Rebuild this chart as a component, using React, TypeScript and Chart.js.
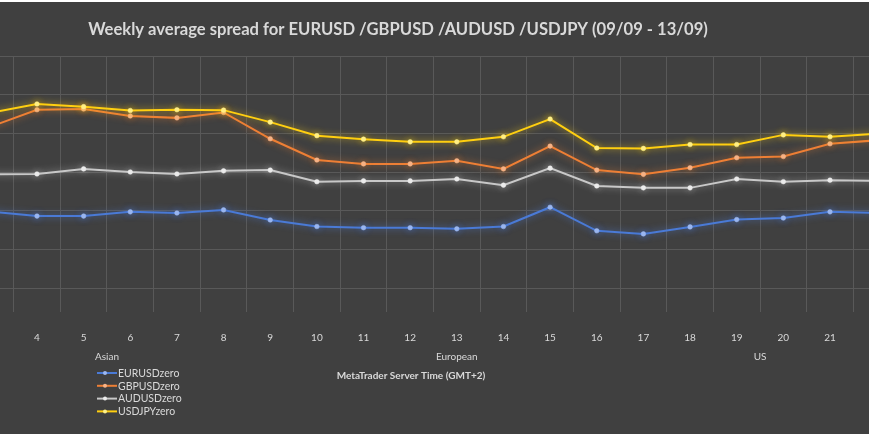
import React, { useEffect, useRef } from "react";
import { Chart, registerables } from "chart.js";

Chart.register(...registerables);

// Server hours (3 and 22 lie just outside the visible crop)
const hours = [3, 4, 5, 6, 7, 8, 9, 10, 11, 12, 13, 14, 15, 16, 17, 18, 19, 20, 21, 22];
const tickHours = [4, 5, 6, 7, 8, 9, 10, 11, 12, 13, 14, 15, 16, 17, 18, 19, 20, 21];
const gridValues = [0, 1, 2, 3, 4, 5, 6];

const eurusd = [1.98, 1.86, 1.86, 1.97, 1.94, 2.02, 1.76, 1.59, 1.56, 1.56, 1.53, 1.59, 2.09, 1.48, 1.40, 1.58, 1.77, 1.81, 1.97, 1.94];
const gbpusd = [4.17, 4.61, 4.63, 4.45, 4.40, 4.54, 3.86, 3.31, 3.21, 3.21, 3.29, 3.08, 3.67, 3.05, 2.94, 3.11, 3.37, 3.40, 3.73, 3.82];
const audusd = [2.94, 2.95, 3.08, 3.00, 2.95, 3.03, 3.05, 2.75, 2.77, 2.77, 2.82, 2.66, 3.10, 2.64, 2.59, 2.59, 2.82, 2.75, 2.79, 2.77];
const usdjpy = [4.53, 4.76, 4.69, 4.59, 4.61, 4.60, 4.29, 3.94, 3.85, 3.78, 3.78, 3.91, 4.37, 3.62, 3.61, 3.71, 3.71, 3.96, 3.91, 3.99];

const seriesNames = ["EURUSDzero", "GBPUSDzero", "AUDUSDzero", "USDJPYzero"];
const seriesValues = [eurusd, gbpusd, audusd, usdjpy];
const lineColors = ["#4a7ad6", "#ee7f35", "#c8c8c8", "#ffcf10"];
const markerColors = ["#9db8f0", "#f7b488", "#ececec", "#fff08a"];
const glowColors = ["rgba(80,130,230,0.75)", "rgba(240,130,50,0.7)", "rgba(220,220,220,0.6)", "rgba(255,210,20,0.75)"];

const sessionLabels = ["Asian", "European", "US"];
const sessionCenters = [5.5, 13, 19.5];

const titleText = "Weekly average spread for EURUSD /GBPUSD /AUDUSD /USDJPY (09/09 - 13/09)";
const axisTitle = "MetaTrader Server Time (GMT+2)";

const FONT = "Lato, 'Open Sans', sans-serif";
const TEXT = "#d9d9d9";

const bgPlugin = {
  id: "bg",
  beforeDraw(chart: any) {
    const ctx = chart.ctx;
    ctx.save();
    ctx.fillStyle = "#404040";
    ctx.fillRect(0, 0, chart.width, chart.height);
    ctx.restore();
  },
};

const glowPlugin = {
  id: "glow",
  beforeDatasetDraw(chart: any, args: any) {
    const ctx = chart.ctx;
    ctx.save();
    ctx.shadowColor = glowColors[args.index];
    ctx.shadowBlur = 7;
  },
  afterDatasetDraw(chart: any) {
    chart.ctx.restore();
  },
};

const overlayPlugin = {
  id: "overlay",
  afterDraw(chart: any) {
    const ctx = chart.ctx;
    const xs = chart.scales.x;
    ctx.save();
    ctx.fillStyle = TEXT;
    ctx.textAlign = "center";
    ctx.textBaseline = "middle";
    ctx.font = `bold 16.6px ${FONT}`;
    ctx.fillText(titleText, 398, 28);

    ctx.font = `10px ${FONT}`;
    sessionLabels.forEach((s, i) => {
      ctx.fillText(s, xs.getPixelForValue(sessionCenters[i]), 355);
    });

    ctx.font = `bold 10px ${FONT}`;
    ctx.fillText(axisTitle, 411, 374);

    // legend
    ctx.textAlign = "left";
    ctx.font = `10.5px ${FONT}`;
    seriesNames.forEach((name, i) => {
      const y = 371 + i * 12.8;
      ctx.strokeStyle = lineColors[i];
      ctx.lineWidth = 2;
      ctx.beginPath();
      ctx.moveTo(97, y);
      ctx.lineTo(117, y);
      ctx.stroke();
      ctx.fillStyle = markerColors[i];
      ctx.beginPath();
      ctx.arc(105, y, 2, 0, Math.PI * 2);
      ctx.fill();
      ctx.fillStyle = TEXT;
      ctx.fillText(name, 118, y + 0.5);
    });
    ctx.restore();
  },
};

export default function App() {
  const ref = useRef<HTMLCanvasElement | null>(null);

  useEffect(() => {
    document.body.style.margin = "0";
    document.body.style.overflow = "hidden";
    document.body.style.background = "#404040";
    if (!ref.current) return;
    const chart = new Chart(ref.current, {
      type: "line",
      data: {
        datasets: seriesNames.map((name, i) => ({
          label: name,
          data: hours.map((h, j) => ({ x: h, y: seriesValues[i][j] })),
          borderColor: lineColors[i],
          backgroundColor: lineColors[i],
          borderWidth: 2,
          pointRadius: 2.3,
          pointBackgroundColor: markerColors[i],
          pointBorderColor: markerColors[i],
          pointBorderWidth: 0.5,
          tension: 0,
          order: 4 - i,
        })),
      },
      options: {
        animation: false,
        responsive: false,
        events: [],
        layout: { autoPadding: false, padding: { top: 54, left: 0, right: 0, bottom: 0 } },
        plugins: {
          legend: { display: false },
          title: { display: false },
          tooltip: { enabled: false },
        },
        scales: {
          x: {
            type: "linear",
            position: "bottom",
            min: 3.207,
            max: 21.836,
            afterBuildTicks: (s: any) => {
              s.ticks = tickHours.map((v) => ({ value: v }));
            },
            afterFit: (s: any) => {
              s.height = 122;
              s.paddingLeft = 0;
              s.paddingRight = 0;
            },
            grid: { color: "#595959", offset: true, drawTicks: false, lineWidth: 1 },
            border: { display: false },
            ticks: {
              color: TEXT,
              font: { family: FONT, size: 10 },
              padding: 20,
              autoSkip: false,
              maxRotation: 0,
              callback: (v: any) => String(v),
            },
          },
          y: {
            type: "linear",
            min: -0.62,
            max: 6,
            afterBuildTicks: (s: any) => {
              s.ticks = gridValues.map((v) => ({ value: v }));
            },
            afterFit: (s: any) => {
              s.width = 0;
              s.paddingTop = 0;
              s.paddingBottom = 0;
            },
            grid: { color: "#595959", drawTicks: false, lineWidth: 1 },
            border: { display: false },
            ticks: { display: false },
          },
        },
      },
      plugins: [bgPlugin, glowPlugin, overlayPlugin],
    } as any);
    return () => chart.destroy();
  }, []);

  return (
    <div style={{ width: 869, height: 434, background: "#404040" }}>
      <div style={{ height: 2, background: "#ffffff" }} />
      <canvas ref={ref} width={869} height={432} style={{ display: "block", width: 869, height: 432 }} />
    </div>
  );
}
